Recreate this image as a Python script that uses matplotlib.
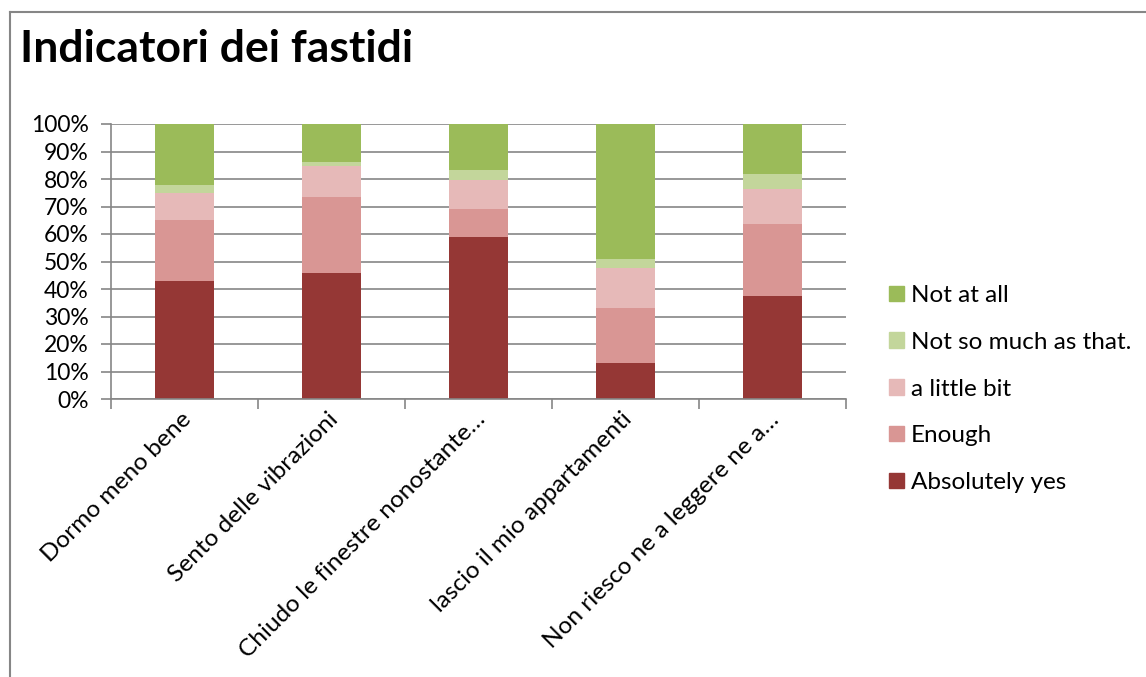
import numpy as np
import matplotlib
matplotlib.use("Agg")
import matplotlib.pyplot as plt
import matplotlib.transforms as mtransforms
from matplotlib.lines import Line2D
from matplotlib.patches import Patch

plt.rcParams['font.family'] = ['Lato', 'DejaVu Sans']

categories = ["Dormo meno bene", "Sento delle vibrazioni", "Chiudo le finestre nonostante…",
              "lascio il mio appartamenti", "Non riesco ne a leggere ne a…"]
series = ["Absolutely yes", "Enough", "a little bit", "Not so much as that.", "Not at all"]
absolutely_yes = [42.9, 45.8, 58.9, 13.0, 37.4]
enough = [22.2, 27.7, 10.2, 20.0, 26.3]
a_little_bit = [9.9, 11.2, 10.7, 14.8, 12.5]
not_so_much = [2.8, 1.4, 3.6, 3.1, 5.8]
not_at_all = [22.2, 13.9, 16.6, 49.1, 18.0]
colors = ["#953735", "#D99694", "#E6B9B8", "#C3D69B", "#9BBB59"]

values = [absolutely_yes, enough, a_little_bit, not_so_much, not_at_all]

fig = plt.figure(figsize=(11.46, 6.77), dpi=100)
ax = fig.add_axes([111/1146, 1-399/677, 735/1146, 275/677])

x = np.arange(len(categories))
bottom = np.zeros(len(categories))
for vals, name, col in zip(values, series, colors):
    ax.bar(x, vals, width=0.4, bottom=bottom, color=col, label=name, zorder=2)
    bottom += np.array(vals)

ax.set_xlim(-0.5, len(categories)-0.5)
ax.set_ylim(0, 100)
ax.set_yticks(np.arange(0, 101, 10))
ax.set_yticklabels([f"{v}%" for v in range(0, 101, 10)], fontsize=16.5)
ax.yaxis.grid(True, color="#868686", linewidth=1.2, zorder=0)
ax.set_axisbelow(True)

ax.set_xticks(x)
ax.set_xticklabels(categories, rotation=45, ha="right", rotation_mode="anchor", fontsize=17.6)
ax.tick_params(axis="x", length=0, pad=7)
shift = mtransforms.ScaledTranslation(-4/100, 0, fig.dpi_scale_trans)
for lbl in ax.get_xticklabels():
    lbl.set_transform(lbl.get_transform() + shift)
ax.set_xticks(np.arange(-0.5, len(categories)), minor=True)
ax.tick_params(axis="x", which="minor", length=7, color="#868686", width=1.2)
ax.tick_params(axis="y", length=7, color="#868686", width=1.2, pad=9)

for s in ["top", "right"]:
    ax.spines[s].set_visible(False)
for s in ["left", "bottom"]:
    ax.spines[s].set_color("#868686")
    ax.spines[s].set_linewidth(1.2)

handles = [Patch(color=c) for c in colors][::-1]
fig.legend(handles, series[::-1], loc="center left", bbox_to_anchor=(889/1146, 1-389/677),
           frameon=False, fontsize=17.5, handlelength=0.6, handleheight=0.6,
           handletextpad=0.3, labelspacing=1.06, borderpad=0, borderaxespad=0)

fig.text(20/1146, 1-62/677, "Indicatori dei fastidi", fontsize=32, fontweight="bold", va="baseline")

fig.add_artist(Line2D([9.5/1146, 9.5/1146], [0, 1-12/677], color="#868686", linewidth=1.5))
fig.add_artist(Line2D([9.5/1146, 1], [1-12/677, 1-12/677], color="#868686", linewidth=1.5))

fig.savefig("out.png", dpi=100)
